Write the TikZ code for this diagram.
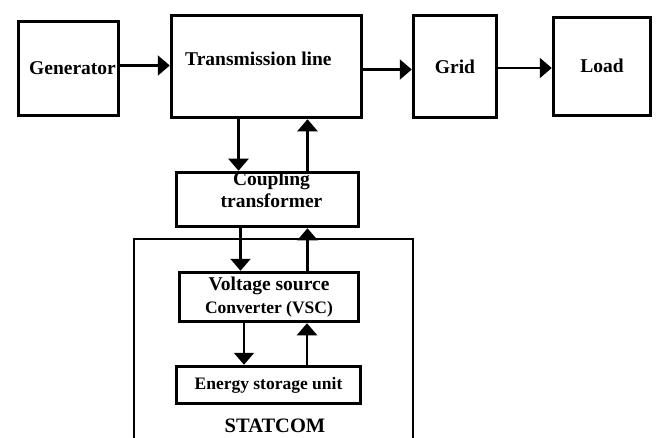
\documentclass[tikz,border=0pt]{standalone}
\usepackage{fontspec}
\setmainfont{Liberation Serif}
\usetikzlibrary{arrows.meta, positioning}

\begin{document}
\begin{tikzpicture}[x=1pt, y=-1pt,
        blk/.style={draw, line width=3.5pt, inner sep=0pt, align=center, font=\bfseries\fontsize{19.5}{22}\selectfont},
        txt/.style={inner sep=0pt, font=\bfseries\fontsize{19.5}{22}\selectfont},
        small/.style={font=\bfseries\fontsize{17.5}{21}\selectfont},
        arr/.style={-{Triangle[length=12pt, width=20pt]}, line width=2.2pt}
      ]
        \useasboundingbox (0,0) rectangle (656,437);
        \node[draw, line width=2.2pt, minimum width=279pt, minimum height=212pt] (statcom) at (273.5,345) {};
        \node[blk, minimum width=100pt, minimum height=94pt] (gen) at (68.5,68.5) {\hspace*{8pt}Generator};
        \node[blk, minimum width=190pt, minimum height=102pt] (tl) at (266.5,66.5) {};
        \node[txt, anchor=base west] (tltext) at (185,65) {Transmission line};
        \node[blk, minimum width=83pt, minimum height=102pt] (grid) at (455,66.5) {Grid};
        \node[blk, minimum width=97pt, minimum height=98pt] (load) at (602,66.5) {};
        \node[txt, anchor=base] (loadtext) at (602,72) {Load};
        \node[blk, line width=3pt, minimum width=182pt, minimum height=44pt] (cpl) at (267.5,199.5) {\hspace*{8pt}Coupling\\\hspace*{8pt}transformer\\[-3pt]};
        \node[blk, minimum width=179pt, minimum height=49pt] (vsc) at (269,297) {Voltage source\\[1pt]{\bfseries\fontsize{17.5}{21}\selectfont Converter (VSC)}};
        \node[blk, minimum width=184pt, minimum height=37pt, small] (esu) at (268.5,385) {Energy storage unit};
        \node[anchor=base, inner sep=0pt, font=\bfseries\fontsize{20.5}{24}\selectfont] (sttext) at (275,432) {STATCOM};
        \draw[arr] ([yshift=3pt]gen.east) -- ([yshift=3pt]gen.east -| tl.west);
        \draw[arr] ([yshift=-3pt]tl.east) -- ([yshift=-3pt]tl.east -| grid.west);
        \draw[arr] ([yshift=-1.5pt]grid.east) -- ([yshift=-1.5pt]grid.east -| load.west);
        \draw[arr] ([xshift=-28pt]tl.south) -- ([xshift=-28pt]tl.south |- cpl.north);
        \draw[arr] ([xshift=41pt]tl.south |- cpl.north) -- ([xshift=41pt]tl.south);
        \draw[arr] ([xshift=-27pt]cpl.south) -- ([xshift=-27pt]cpl.south |- vsc.north);
        \draw[arr] ([xshift=40pt]cpl.south |- vsc.north) -- ([xshift=40pt]cpl.south);
        \draw[arr] ([xshift=-25pt]vsc.south) -- ([xshift=-25pt]vsc.south |- esu.north);
        \draw[arr] ([xshift=38pt]vsc.south |- esu.north) -- ([xshift=38pt]vsc.south);
      \end{tikzpicture}
\end{document}
